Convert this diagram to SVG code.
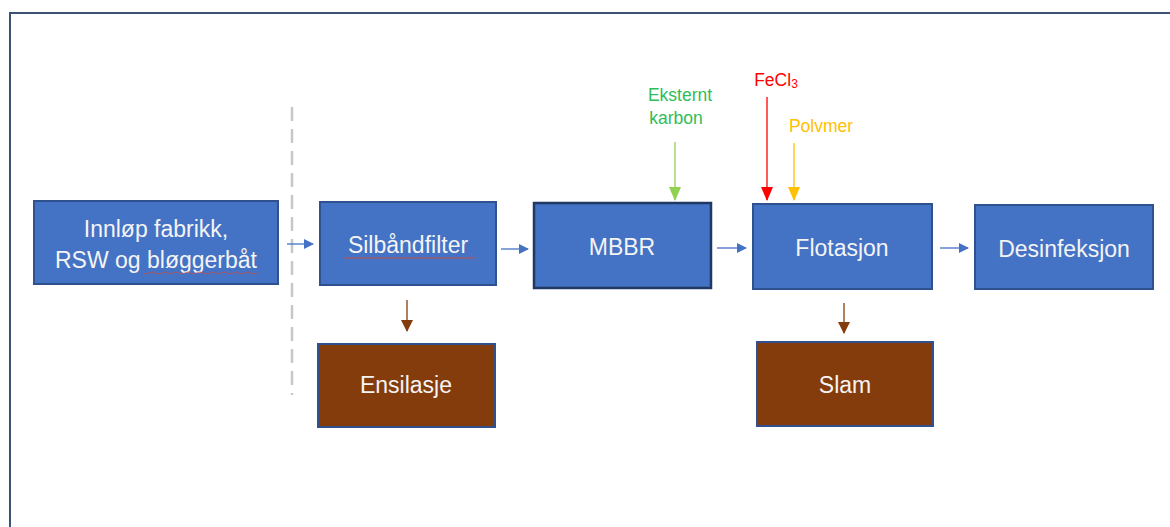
<svg xmlns="http://www.w3.org/2000/svg" width="1170" height="527" viewBox="0 0 1170 527">
<defs>
<style>
.blue{fill:#4472c4;stroke:#2f528f;stroke-width:2}
.brown{fill:#843c0c;stroke:#2f528f;stroke-width:2}
.lbl{font-family:"Liberation Sans",Arial,sans-serif;font-size:23px;fill:#f4f4f4;text-anchor:middle}
.sm{font-family:"Liberation Sans",Arial,sans-serif;font-size:17.5px;text-anchor:middle}
.conn{fill:none;stroke-width:1.3}
</style>
<marker id="ab" markerWidth="10" markerHeight="10" refX="9" refY="5" orient="auto" markerUnits="userSpaceOnUse"><path d="M0,0 L10,5 L0,10 z" fill="#4472c4"/></marker>
<marker id="abr" markerWidth="12" markerHeight="12" refX="11" refY="6" orient="auto" markerUnits="userSpaceOnUse"><path d="M0,0 L12,6 L0,12 z" fill="#843c0c"/></marker>
<marker id="ag" markerWidth="14" markerHeight="12" refX="13" refY="6" orient="auto" markerUnits="userSpaceOnUse"><path d="M0,0 L14,6 L0,12 z" fill="#92d050"/></marker>
<marker id="ar" markerWidth="14" markerHeight="12" refX="13" refY="6" orient="auto" markerUnits="userSpaceOnUse"><path d="M0,0 L14,6 L0,12 z" fill="#ff0000"/></marker>
<marker id="ao" markerWidth="14" markerHeight="12" refX="13" refY="6" orient="auto" markerUnits="userSpaceOnUse"><path d="M0,0 L14,6 L0,12 z" fill="#ffc000"/></marker>
</defs>
<rect x="0" y="0" width="1170" height="527" fill="#ffffff"/>
<rect x="10" y="13" width="1200" height="600" fill="none" stroke="#3b5273" stroke-width="2"/>
<line x1="292" y1="107" x2="292" y2="395" stroke="#c8c8c8" stroke-width="2.5" stroke-dasharray="14,8"/>

<g id="connectors">
<line class="conn" x1="287" y1="244" x2="313" y2="244" stroke="#4472c4" marker-end="url(#ab)"/>
<line class="conn" x1="501" y1="249" x2="528" y2="249" stroke="#4472c4" marker-end="url(#ab)"/>
<line class="conn" x1="717" y1="248" x2="746" y2="248" stroke="#4472c4" marker-end="url(#ab)"/>
<line class="conn" x1="940" y1="248" x2="968" y2="248" stroke="#4472c4" marker-end="url(#ab)"/>
<line class="conn" x1="407" y1="300" x2="407" y2="331" stroke="#843c0c" marker-end="url(#abr)"/>
<line class="conn" x1="844" y1="303" x2="844" y2="333" stroke="#843c0c" marker-end="url(#abr)"/>
<line class="conn" x1="675" y1="142" x2="675" y2="200" stroke="#92d050" marker-end="url(#ag)"/>
<line class="conn" x1="767" y1="97" x2="767" y2="200" stroke="#ff0000" stroke-width="1.6" marker-end="url(#ar)"/>
<line class="conn" x1="794" y1="143" x2="794" y2="200" stroke="#ffc000" stroke-width="1.6" marker-end="url(#ao)"/>
</g>

<g id="innlop">
<rect class="blue" x="34" y="201" width="244" height="83"/>
<text class="lbl" x="156" y="237">Innløp fabrikk,</text>
<text class="lbl" x="156" y="268">RSW og bløggerbåt</text>
<path d="M143,273 q3,2 6,0 t6,0 t6,0 t6,0 t6,0 t6,0 t6,0 t6,0 t6,0 t6,0 t6,0 t6,0 t6,0 t6,0 t6,0 t6,0 t6,0 t6,0 t6,0" fill="none" stroke="#c0504d" stroke-width="0.8"/>
</g>

<g id="silband">
<rect class="blue" x="320" y="202" width="176" height="83"/>
<text class="lbl" x="408" y="253">Silbåndfilter</text>
<line x1="343" y1="258" x2="475" y2="258" stroke="#c0504d" stroke-width="1"/>
</g>

<g id="mbbr">
<rect x="534" y="203" width="177" height="85" fill="#4472c4" stroke="#1f3864" stroke-width="2.5"/>
<text class="lbl" x="622" y="255">MBBR</text>
</g>

<g id="flotasjon">
<rect class="blue" x="753" y="204" width="179" height="85"/>
<text class="lbl" x="842" y="256">Flotasjon</text>
</g>

<g id="desinfeksjon">
<rect class="blue" x="975" y="205" width="178" height="84"/>
<text class="lbl" x="1064" y="257">Desinfeksjon</text>
</g>

<g id="ensilasje">
<rect class="brown" x="318" y="344" width="177" height="83"/>
<text class="lbl" x="406" y="393">Ensilasje</text>
</g>

<g id="slam">
<rect class="brown" x="757" y="342" width="176" height="84"/>
<text class="lbl" x="845" y="393">Slam</text>
</g>

<g id="labels">
<text class="sm" x="680" y="101" fill="#2ebd5a">Eksternt</text>
<text class="sm" x="676" y="124" fill="#2ebd5a">karbon</text>
<text class="sm" x="776" y="86" fill="#ff0000">FeCl<tspan font-size="12" dy="2">3</tspan></text>
<text class="sm" x="821" y="132" fill="#ffc000">Polvmer</text>
</g>
</svg>
